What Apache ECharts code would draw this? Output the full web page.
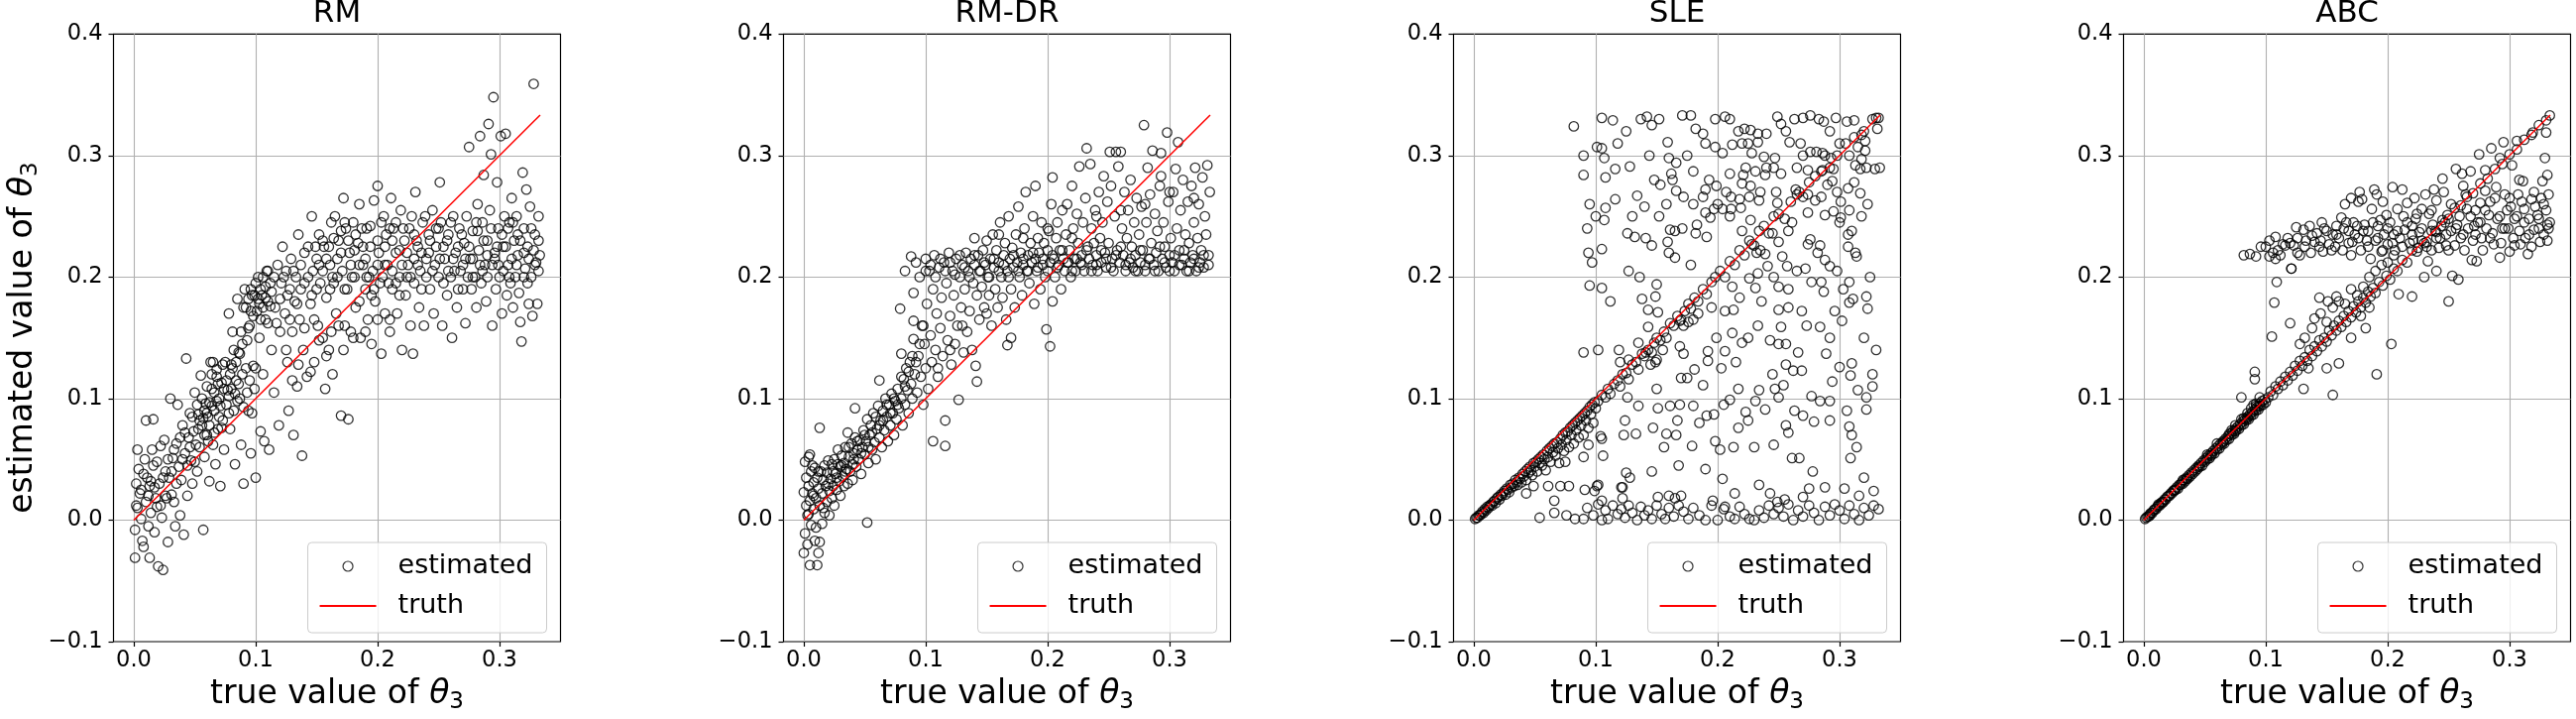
<!DOCTYPE html>
<html>
<head>
<meta charset="utf-8" />
<title>estimated vs true value of θ3</title>
<script src="https://cdn.jsdelivr.net/npm/echarts@6/dist/echarts.min.js"></script>
<style>
	html, body { margin: 0; padding: 0; background: #fff; }
	#chart { width: 2599px; height: 725px; }
</style>
</head>
<body>
<div id="chart"></div>
<script>
// titles and ticks shared by the four panels
var panelNames = ['RM', 'RM-DR', 'SLE', 'ABC'];
var xTicks = [0, 0.1, 0.2, 0.3];
var yTicks = [-0.1, 0, 0.1, 0.2, 0.3, 0.4];
var truthX = [0, 0.3333];

// estimated θ3 against true θ3
var rmPts = [
[0.001,-0.031],[0.001,-0.008],[0.002,0.03],[0.003,0.058],[0.004,0.042],[0.002,0.012],[0.005,0.022],[0.006,0.001],[0.007,-0.017],[0.008,-0.022],
[0.009,0.05],[0.01,0.082],[0.011,0.035],[0.012,0.02],[0.013,0.028],[0.013,-0.031],[0.014,0.006],[0.015,0.058],[0.016,0.045],[0.016,0.083],
[0.017,-0.01],[0.018,0.018],[0.019,0.011],[0.02,-0.038],[0.021,0.03],[0.022,0.061],[0.023,0.002],[0.024,-0.041],[0.025,0.066],[0.026,0.04],
[0.027,0.018],[0.028,-0.018],[0.029,0.035],[0.03,0.1],[0.031,0.021],[0.032,0.051],[0.033,0.015],[0.034,-0.005],[0.035,0.063],[0.036,0.095],
[0.037,0.044],[0.038,0.004],[0.039,0.033],[0.04,0.078],[0.041,-0.012],[0.042,0.055],[0.043,0.133],[0.044,0.02],[0.045,0.068],[0.046,0.088],
[0.047,0.049],[0.048,0.03],[0.049,0.073],[0.05,0.105],[0.052,0.04],[0.053,0.087],[0.054,0.06],[0.055,0.119],[0.056,0.078],[0.057,-0.008],
[0.058,0.052],[0.059,0.096],[0.06,0.07],[0.061,0.085],[0.062,0.032],[0.063,0.13],[0.064,0.108],[0.065,0.062],[0.066,0.09],[0.067,0.046],
[0.068,0.124],[0.069,0.075],[0.07,0.1],[0.071,0.028],[0.072,0.113],[0.073,0.082],[0.074,0.058],[0.075,0.13],[0.076,0.095],[0.077,0.107],
[0.078,0.17],[0.079,0.075],[0.08,0.128],[0.081,0.155],[0.082,0.09],[0.083,0.046],[0.084,0.115],[0.085,0.182],[0.086,0.138],[0.087,0.1],
[0.088,0.062],[0.089,0.12],[0.09,0.03],[0.091,0.19],[0.092,0.175],[0.093,0.148],[0.094,0.09],[0.095,0.16],[0.096,0.055],[0.097,0.185],
[0.098,0.127],[0.099,0.108],[0.1,0.035],[0.101,0.172],[0.102,0.2],[0.103,0.15],[0.104,0.073],[0.105,0.185],[0.106,0.12],[0.107,0.065],
[0.108,0.165],[0.109,0.205],[0.11,0.18],[0.111,0.058],[0.112,0.195],[0.113,0.14],[0.115,0.105],[0.116,0.175],[0.118,0.21],[0.119,0.078],
[0.12,0.155],[0.121,0.195],[0.122,0.225],[0.124,0.17],[0.125,0.205],[0.126,0.13],[0.127,0.09],[0.128,0.19],[0.129,0.215],[0.13,0.155],
[0.131,0.07],[0.132,0.18],[0.133,0.2],[0.134,0.11],[0.135,0.235],[0.136,0.165],[0.137,0.21],[0.138,0.053],[0.139,0.14],[0.14,0.195],
[0.142,0.118],[0.143,0.225],[0.145,0.178],[0.146,0.25],[0.147,0.205],[0.148,0.13],[0.15,0.215],[0.151,0.16],[0.152,0.235],[0.153,0.195],
[0.155,0.15],[0.156,0.225],[0.157,0.108],[0.158,0.183],[0.16,0.14],[0.161,0.21],[0.162,0.245],[0.163,0.12],[0.164,0.195],[0.165,0.25],
[0.166,0.17],[0.168,0.23],[0.17,0.086],[0.171,0.205],[0.172,0.265],[0.173,0.16],[0.174,0.24],[0.175,0.19],[0.176,0.083],[0.177,0.22],
[0.178,0.155],[0.18,0.245],[0.181,0.2],[0.182,0.175],[0.184,0.228],[0.185,0.26],[0.186,0.15],[0.188,0.21],[0.19,0.19],[0.191,0.24],
[0.192,0.165],[0.194,0.225],[0.195,0.145],[0.196,0.205],[0.197,0.263],[0.198,0.18],[0.2,0.275],[0.201,0.22],[0.202,0.195],[0.203,0.137],
[0.205,0.25],[0.206,0.17],[0.207,0.235],[0.208,0.21],[0.21,0.155],[0.211,0.265],[0.212,0.19],[0.213,0.24],[0.215,0.22],[0.216,0.17],
[0.218,0.2],[0.219,0.255],[0.22,0.14],[0.222,0.23],[0.223,0.185],[0.225,0.21],[0.227,0.16],[0.228,0.25],[0.229,0.137],[0.23,0.195],
[0.231,0.27],[0.233,0.225],[0.234,0.175],[0.235,0.205],[0.237,0.245],[0.238,0.16],[0.24,0.215],[0.242,0.235],[0.243,0.19],[0.245,0.255],
[0.246,0.17],[0.248,0.225],[0.25,0.2],[0.251,0.278],[0.252,0.245],[0.253,0.16],[0.255,0.215],[0.257,0.185],[0.258,0.235],[0.26,0.2],
[0.261,0.15],[0.262,0.25],[0.264,0.22],[0.265,0.175],[0.267,0.24],[0.268,0.205],[0.27,0.19],[0.271,0.228],[0.272,0.162],[0.273,0.25],
[0.275,0.307],[0.276,0.215],[0.277,0.19],[0.278,0.238],[0.28,0.2],[0.281,0.175],[0.282,0.26],[0.283,0.222],[0.284,0.316],[0.285,0.195],
[0.286,0.245],[0.287,0.284],[0.288,0.21],[0.289,0.18],[0.29,0.23],[0.291,0.326],[0.292,0.255],[0.293,0.301],[0.294,0.16],[0.295,0.348],
[0.296,0.215],[0.297,0.19],[0.298,0.278],[0.299,0.24],[0.3,0.2],[0.301,0.316],[0.302,0.17],[0.303,0.225],[0.304,0.25],[0.305,0.318],
[0.306,0.185],[0.307,0.21],[0.308,0.245],[0.309,0.195],[0.31,0.265],[0.311,0.175],[0.312,0.23],[0.313,0.2],[0.314,0.25],[0.315,0.218],
[0.316,0.187],[0.317,0.163],[0.318,0.147],[0.319,0.286],[0.32,0.24],[0.321,0.207],[0.322,0.272],[0.323,0.225],[0.324,0.178],[0.325,0.258],
[0.326,0.2],[0.327,0.168],[0.328,0.359],[0.329,0.235],[0.33,0.212],[0.331,0.178],[0.332,0.25],[0.333,0.218],
[0.051,0.062],[0.053,0.075],[0.058,0.07],[0.06,0.088],[0.062,0.078],[0.064,0.094],[0.066,0.072],[0.057,0.084],[0.061,0.065],[0.068,0.098],
[0.07,0.085],[0.072,0.076],[0.065,0.13],[0.068,0.118],[0.074,0.108],[0.078,0.102],[0.083,0.104],[0.086,0.112],[0.09,0.093],[0.093,0.105],
[0.095,0.115],[0.097,0.088],[0.1,0.125],[0.103,0.178],[0.104,0.19],[0.106,0.2],[0.108,0.183],[0.11,0.162],[0.112,0.176],[0.099,0.185],
[0.096,0.172],[0.094,0.158],[0.089,0.145],[0.087,0.137],[0.084,0.13],[0.081,0.125],[0.079,0.12],
[0.15,0.19],[0.155,0.205],[0.16,0.225],[0.163,0.2],[0.167,0.215],[0.17,0.238],[0.173,0.19],[0.178,0.21],[0.181,0.222],[0.185,0.18],
[0.187,0.24],[0.19,0.215],[0.193,0.2],[0.195,0.185],[0.2,0.21],[0.204,0.2],[0.206,0.225],[0.21,0.24],[0.212,0.205],[0.215,0.195],
[0.218,0.222],[0.22,0.21],[0.224,0.2],[0.226,0.24],[0.23,0.215],[0.232,0.23],[0.236,0.22],[0.24,0.2],[0.243,0.23],[0.247,0.21],
[0.25,0.24],[0.254,0.225],[0.258,0.205],[0.262,0.215],[0.266,0.225],[0.27,0.21],[0.274,0.2],[0.278,0.215],[0.282,0.238],[0.286,0.205],
[0.29,0.218],[0.294,0.21],[0.298,0.225],[0.303,0.205],[0.307,0.24],[0.31,0.215],[0.315,0.235],[0.32,0.2],[0.324,0.215],[0.328,0.222],
[0.332,0.205],[0.125,0.14],[0.13,0.115],[0.135,0.128],[0.14,0.158],[0.145,0.122],[0.148,0.165],[0.152,0.148],[0.158,0.135],[0.162,0.155],
[0.168,0.16],[0.172,0.14],[0.18,0.15],[0.19,0.155],[0.2,0.165],[0.21,0.165],
[0.003,0.01],[0.006,0.025],[0.008,0.038],[0.01,0.015],[0.012,-0.005],[0.014,0.032],[0.017,0.027],[0.019,0.048],[0.022,0.012],[0.024,0.035],
[0.026,0.02],[0.028,0.05],[0.031,0.04],[0.033,0.058],[0.035,0.03],[0.038,0.068],[0.04,0.05],[0.042,0.072],[0.044,0.045],[0.046,0.06],
[0.048,0.085],[0.05,0.048],[0.052,0.095],[0.054,0.082],[0.056,0.1],[0.058,0.09],[0.06,0.11],[0.062,0.097],[0.064,0.12],[0.066,0.105],
[0.069,0.112],[0.071,0.094],[0.073,0.128],[0.076,0.115],[0.078,0.088],[0.08,0.108],[0.082,0.14],[0.085,0.098],[0.088,0.155],[0.09,0.175],
[0.092,0.125],[0.094,0.182],[0.096,0.19],[0.098,0.168],[0.1,0.195],[0.102,0.182],[0.104,0.165],[0.106,0.175],[0.108,0.192],[0.11,0.205],
[0.113,0.188],[0.115,0.2],[0.117,0.162],[0.12,0.182],[0.123,0.2],[0.126,0.185],[0.128,0.165],[0.131,0.205],[0.134,0.178],[0.137,0.19],
[0.14,0.22],[0.143,0.2],[0.146,0.185],[0.149,0.225],[0.152,0.21],[0.155,0.23],[0.158,0.215],[0.161,0.19],[0.164,0.232],[0.167,0.2],
[0.17,0.22],[0.173,0.245],[0.176,0.23],[0.179,0.2],[0.182,0.235],[0.185,0.21],[0.188,0.225],[0.191,0.2],[0.194,0.242],[0.197,0.19],
[0.2,0.23],[0.203,0.245],[0.206,0.21],[0.209,0.195],[0.212,0.23],[0.215,0.245],[0.218,0.185],[0.221,0.24],[0.224,0.22],[0.227,0.2],
[0.23,0.235],[0.233,0.21],[0.236,0.19],[0.239,0.25],[0.242,0.22],[0.245,0.205],[0.248,0.24],[0.251,0.215],[0.254,0.195],[0.257,0.23],
[0.26,0.245],[0.263,0.205],[0.266,0.19],[0.269,0.235],[0.272,0.215],[0.275,0.225],[0.278,0.2],[0.281,0.245],[0.284,0.21],[0.287,0.23],
[0.29,0.2],[0.293,0.24],[0.296,0.22],[0.299,0.21],[0.302,0.235],[0.305,0.225],[0.308,0.2],[0.311,0.245],[0.314,0.21],[0.317,0.23],
[0.32,0.22],[0.323,0.195],[0.326,0.24],[0.329,0.21],[0.332,0.23]
];

var rmdrPts = [
[0.000,0.023],[0.001,0.048],[0.001,-0.011],[0.000,-0.027],[0.002,0.012],[0.002,0.035],[0.003,0.004],[0.003,-0.02],[0.004,0.028],[0.004,0.052],
[0.005,0.054],[0.005,-0.037],[0.005,0.016],[0.006,0.04],[0.006,-0.004],[0.007,0.022],[0.007,0.045],[0.008,0.009],[0.008,0.031],[0.009,-0.017],
[0.009,0.043],[0.010,-0.006],[0.010,0.018],[0.011,-0.037],[0.011,0.035],[0.012,-0.027],[0.012,0.026],[0.013,-0.018],[0.013,0.076],[0.013,0.012],
[0.014,0.04],[0.015,-0.003],[0.015,0.022],[0.016,0.033],[0.017,0.006],[0.017,0.045],[0.018,0.028],[0.019,0.015],[0.019,0.039],[0.020,0.049],
[0.021,0.024],[0.021,0.004],[0.022,0.034],[0.023,0.046],[0.023,0.018],[0.024,0.028],[0.025,0.05],[0.025,0.012],[0.026,0.038],[0.027,0.025],
[0.028,0.046],[0.028,0.058],[0.029,0.032],[0.030,0.02],[0.030,0.044],[0.031,0.053],[0.032,0.036],[0.033,0.028],[0.033,0.047],[0.034,0.06],
[0.035,0.042],[0.036,0.072],[0.036,0.03],[0.037,0.052],[0.038,0.04],[0.039,0.063],[0.040,0.046],[0.040,0.033],[0.041,0.055],[0.042,0.092],
[0.042,0.068],[0.043,0.044],[0.044,0.058],[0.045,0.05],[0.046,0.066],[0.047,0.038],[0.048,0.06],[0.049,0.074],[0.050,0.054],[0.051,0.065],
[0.052,-0.002],[0.052,0.083],[0.053,0.047],[0.054,0.07],[0.055,0.078],[0.056,0.058],[0.057,0.088],[0.058,0.064],[0.059,0.05],[0.060,0.075],
[0.061,0.094],[0.062,0.115],[0.062,0.068],[0.063,0.082],[0.064,0.06],[0.065,0.09],[0.066,0.074],[0.067,0.1],[0.068,0.085],[0.069,0.065],
[0.070,0.095],[0.071,0.078],[0.072,0.104],[0.073,0.088],[0.074,0.07],[0.075,0.098],[0.076,0.083],[0.077,0.108],[0.078,0.092],[0.079,0.174],
[0.080,0.137],[0.080,0.1],[0.081,0.078],[0.082,0.116],[0.083,0.205],[0.083,0.095],[0.084,0.125],[0.085,0.107],[0.086,0.088],[0.087,0.13],
[0.088,0.217],[0.088,0.112],[0.089,0.1],[0.090,0.187],[0.090,0.164],[0.090,0.149],[0.091,0.12],[0.092,0.212],[0.093,0.105],[0.094,0.135],
[0.095,0.2],[0.096,0.118],[0.097,0.16],[0.098,0.095],[0.099,0.145],[0.100,0.215],[0.100,0.125],[0.101,0.178],[0.102,0.108],[0.103,0.205],
[0.104,0.152],[0.105,0.13],[0.106,0.065],[0.106,0.19],[0.107,0.218],[0.108,0.14],[0.109,0.17],[0.110,0.118],[0.111,0.208],[0.112,0.158],
[0.113,0.183],[0.114,0.135],[0.115,0.212],[0.116,0.061],[0.116,0.082],[0.117,0.195],[0.118,0.148],[0.119,0.22],[0.120,0.168],[0.121,0.128],
[0.122,0.205],[0.123,0.185],[0.124,0.145],[0.125,0.215],[0.126,0.16],[0.127,0.099],[0.128,0.2],[0.129,0.175],[0.130,0.21],[0.131,0.138],
[0.132,0.19],[0.133,0.22],[0.134,0.155],[0.135,0.205],[0.136,0.172],[0.137,0.215],[0.138,0.14],[0.139,0.195],[0.140,0.21],[0.141,0.127],
[0.142,0.114],[0.142,0.185],[0.143,0.218],[0.144,0.165],[0.145,0.205],[0.146,0.192],[0.147,0.222],[0.148,0.175],[0.149,0.21],[0.150,0.23],
[0.151,0.2],[0.152,0.185],[0.153,0.215],[0.154,0.16],[0.155,0.235],[0.156,0.208],[0.157,0.19],[0.158,0.222],[0.159,0.175],[0.160,0.212],
[0.161,0.245],[0.162,0.2],[0.163,0.183],[0.164,0.218],[0.165,0.228],[0.166,0.165],[0.167,0.144],[0.167,0.205],[0.168,0.25],[0.169,0.215],
[0.170,0.19],[0.171,0.224],[0.172,0.208],[0.173,0.175],[0.174,0.235],[0.175,0.212],[0.176,0.258],[0.177,0.2],[0.178,0.22],[0.179,0.185],
[0.180,0.21],[0.181,0.24],[0.182,0.27],[0.183,0.205],[0.184,0.218],[0.185,0.195],[0.186,0.228],[0.187,0.212],[0.188,0.25],[0.189,0.178],
[0.190,0.275],[0.190,0.215],[0.191,0.205],[0.192,0.232],[0.193,0.22],[0.194,0.19],[0.195,0.245],[0.196,0.21],[0.197,0.228],[0.198,0.2],
[0.199,0.157],[0.200,0.222],[0.201,0.238],[0.202,0.143],[0.202,0.212],[0.203,0.26],[0.204,0.18],[0.204,0.282],[0.205,0.215],[0.206,0.2],
[0.207,0.232],[0.208,0.245],[0.209,0.21],[0.210,0.222],[0.211,0.19],[0.212,0.255],[0.213,0.215],[0.214,0.205],[0.215,0.235],[0.216,0.26],
[0.217,0.212],[0.218,0.222],[0.219,0.2],[0.220,0.275],[0.221,0.24],[0.222,0.215],[0.223,0.205],[0.224,0.252],[0.225,0.228],[0.226,0.291],
[0.227,0.212],[0.228,0.218],[0.229,0.245],[0.230,0.205],[0.231,0.265],[0.232,0.306],[0.233,0.225],[0.234,0.215],[0.235,0.293],[0.236,0.24],
[0.237,0.21],[0.238,0.228],[0.239,0.255],[0.240,0.218],[0.241,0.205],[0.242,0.27],[0.243,0.232],[0.244,0.212],[0.245,0.245],[0.246,0.283],
[0.247,0.22],[0.248,0.208],[0.249,0.262],[0.250,0.228],[0.251,0.303],[0.252,0.275],[0.253,0.215],[0.254,0.205],[0.255,0.25],[0.256,0.303],
[0.257,0.222],[0.258,0.291],[0.259,0.212],[0.260,0.303],[0.261,0.24],[0.262,0.218],[0.263,0.27],[0.264,0.205],[0.265,0.232],[0.266,0.255],
[0.267,0.212],[0.268,0.28],[0.269,0.225],[0.270,0.208],[0.271,0.245],[0.272,0.218],[0.273,0.265],[0.274,0.205],[0.275,0.235],[0.276,0.212],
[0.277,0.258],[0.278,0.222],[0.279,0.325],[0.280,0.205],[0.281,0.245],[0.282,0.29],[0.283,0.215],[0.284,0.268],[0.285,0.228],[0.286,0.304],
[0.287,0.21],[0.288,0.252],[0.289,0.22],[0.290,0.238],[0.291,0.205],[0.292,0.275],[0.293,0.302],[0.293,0.283],[0.294,0.215],[0.295,0.245],
[0.296,0.225],[0.297,0.208],[0.298,0.319],[0.299,0.262],[0.300,0.218],[0.301,0.232],[0.302,0.212],[0.303,0.27],[0.304,0.205],[0.305,0.289],
[0.306,0.24],[0.307,0.311],[0.308,0.222],[0.309,0.255],[0.310,0.21],[0.311,0.28],[0.312,0.215],[0.313,0.235],[0.314,0.205],[0.315,0.262],
[0.316,0.228],[0.317,0.212],[0.318,0.275],[0.319,0.218],[0.320,0.245],[0.321,0.29],[0.322,0.205],[0.323,0.232],[0.324,0.26],[0.325,0.212],
[0.326,0.222],[0.327,0.282],[0.328,0.208],[0.329,0.25],[0.330,0.235],[0.331,0.292],[0.332,0.218],[0.333,0.27],
[0.004,0.005],[0.008,0.02],[0.012,0.04],[0.016,0.01],[0.02,0.03],[0.024,0.04],[0.027,0.035],[0.031,0.045],[0.034,0.04],[0.037,0.06],
[0.041,0.05],[0.044,0.065],[0.047,0.055],[0.05,0.07],[0.053,0.06],[0.056,0.072],[0.059,0.085],[0.062,0.078],[0.065,0.082],[0.068,0.095],
[0.071,0.088],[0.074,0.1],[0.077,0.095],[0.08,0.118],[0.083,0.11],[0.086,0.122],[0.089,0.135],[0.092,0.13],[0.095,0.145],[0.098,0.16],
[0.1,0.205],[0.104,0.21],[0.108,0.2],[0.112,0.215],[0.116,0.205],[0.12,0.212],[0.124,0.202],[0.128,0.218],[0.132,0.208],[0.136,0.2],
[0.14,0.218],[0.144,0.205],[0.148,0.212],[0.152,0.2],[0.156,0.215],[0.16,0.205],[0.164,0.21],[0.168,0.2],[0.172,0.218],[0.176,0.205],
[0.18,0.215],[0.184,0.205],[0.188,0.22],[0.192,0.208],[0.196,0.215],[0.2,0.205],[0.204,0.218],[0.208,0.208],[0.212,0.222],[0.216,0.212],
[0.22,0.205],[0.224,0.215],[0.228,0.21],[0.232,0.222],[0.236,0.205],[0.24,0.21],[0.244,0.222],[0.248,0.215],[0.252,0.208],[0.256,0.218],
[0.26,0.225],[0.264,0.21],[0.268,0.215],[0.272,0.205],[0.276,0.222],[0.28,0.21],[0.284,0.215],[0.288,0.205],[0.292,0.225],[0.296,0.212],
[0.3,0.205],[0.304,0.218],[0.308,0.21],[0.312,0.222],[0.316,0.205],[0.32,0.215],[0.324,0.208],[0.328,0.218],[0.332,0.21],[0.14,0.232],
[0.16,0.235],[0.18,0.232],[0.2,0.24],[0.22,0.232],[0.24,0.25],[0.26,0.255],[0.28,0.26],[0.3,0.27],[0.32,0.265],[0.17,0.15],
[0.15,0.17],[0.13,0.16],[0.12,0.14],[0.11,0.125]
];

var slePts = [
[0.001,0.001],[0.002,0.002],[0.003,0.002],[0.004,0.004],[0.005,0.004],[0.006,0.005],[0.007,0.007],[0.008,0.006],[0.009,0.009],[0.010,0.008],
[0.011,0.011],[0.012,0.010],[0.013,0.012],[0.014,0.013],[0.015,0.012],[0.016,0.015],[0.017,0.016],[0.018,0.014],[0.019,0.018],[0.020,0.019],
[0.021,0.017],[0.022,0.021],[0.023,0.020],[0.024,0.022],[0.025,0.024],[0.026,0.021],[0.027,0.026],[0.028,0.025],[0.029,0.023],[0.030,0.029],
[0.031,0.027],[0.032,0.030],[0.033,0.028],[0.034,0.033],[0.035,0.031],[0.036,0.029],[0.037,0.035],[0.038,0.034],[0.039,0.031],[0.040,0.038],
[0.041,0.036],[0.042,0.040],[0.043,0.033],[0.044,0.042],[0.045,0.039],[0.046,0.044],[0.047,0.041],[0.048,0.037],[0.049,0.047],[0.050,0.044],
[0.051,0.048],[0.052,0.040],[0.053,0.050],[0.054,0.047],[0.055,0.052],[0.056,0.045],[0.057,0.054],[0.058,0.050],[0.059,0.041],[0.060,0.057],
[0.061,0.052],[0.062,0.059],[0.063,0.048],[0.064,0.061],[0.065,0.056],[0.066,0.063],[0.067,0.053],[0.068,0.064],[0.069,0.059],[0.070,0.047],
[0.071,0.067],[0.072,0.062],[0.073,0.070],[0.074,0.057],[0.075,0.072],[0.076,0.066],[0.077,0.073],[0.078,0.060],[0.079,0.076],[0.080,0.070],
[0.081,0.078],[0.082,0.063],[0.083,0.080],[0.084,0.074],[0.085,0.082],[0.086,0.068],[0.087,0.084],[0.088,0.078],[0.089,0.086],[0.090,0.070],
[0.091,0.088],[0.092,0.082],[0.093,0.090],[0.094,0.076],[0.095,0.093],[0.096,0.087],[0.097,0.095],[0.098,0.080],[0.099,0.097],[0.100,0.092],
[0.043,0.022],[0.049,0.028],[0.061,0.028],[0.066,0.016],[0.071,0.028],[0.078,0.028],[0.075,0.048],[0.090,0.052],[0.094,0.062],[0.105,0.067],
[0.106,0.053],[0.102,0.029],[0.091,0.025],[0.099,0.024],[0.105,0.016],
[0.102,0.098],[0.105,0.103],[0.108,0.101],[0.110,0.108],[0.112,0.104],[0.115,0.112],[0.118,0.115],[0.120,0.110],[0.122,0.120],[0.125,0.121],
[0.127,0.116],[0.130,0.128],[0.133,0.130],[0.135,0.124],[0.138,0.137],[0.140,0.135],[0.143,0.140],[0.146,0.138],[0.148,0.146],[0.150,0.150],
[0.153,0.148],[0.156,0.155],[0.158,0.150],[0.161,0.162],[0.164,0.160],[0.167,0.168],[0.170,0.165],[0.173,0.172],[0.176,0.178],[0.178,0.174],
[0.181,0.183],[0.184,0.180],[0.188,0.190],[0.191,0.186],[0.195,0.196],[0.198,0.200],[0.202,0.205],[0.206,0.200],[0.210,0.213],[0.214,0.210],
[0.218,0.222],[0.222,0.218],[0.226,0.230],[0.230,0.226],[0.234,0.238],[0.238,0.242],[0.242,0.236],[0.246,0.250],[0.250,0.252],[0.255,0.248],
[0.260,0.262],[0.265,0.268],[0.270,0.266],[0.275,0.278],[0.280,0.283],[0.286,0.288],[0.292,0.290],[0.298,0.300],[0.305,0.310],[0.312,0.315],
[0.320,0.320],[0.327,0.330],[0.332,0.331],[0.169,0.164],[0.172,0.160],[0.176,0.163],[0.180,0.165],[0.184,0.170],[0.145,0.128],[0.150,0.132],
[0.054,0.002],[0.066,0.006],[0.076,0.004],[0.083,0.001],[0.090,0.001],[0.093,0.010],[0.098,0.004],[0.102,0.013],[0.105,0.000],[0.108,0.008],
[0.110,0.001],[0.114,0.012],[0.118,0.005],[0.121,0.009],[0.124,0.002],[0.127,0.012],[0.130,0.006],[0.134,0.000],[0.137,0.011],[0.140,0.004],
[0.143,0.008],[0.146,0.001],[0.150,0.012],[0.154,0.005],[0.157,0.001],[0.160,0.010],[0.164,0.003],[0.168,0.012],[0.172,0.007],[0.176,0.001],
[0.180,0.010],[0.185,0.004],[0.190,0.000],[0.195,0.012],[0.200,0.000],[0.205,0.009],[0.210,0.003],[0.214,0.001],[0.218,0.011],[0.222,0.005],
[0.226,0.001],[0.230,0.000],[0.234,0.008],[0.238,0.002],[0.242,0.012],[0.246,0.005],[0.250,0.010],[0.254,0.003],[0.258,0.013],[0.262,0.000],
[0.266,0.008],[0.270,0.003],[0.275,0.012],[0.279,0.006],[0.283,0.000],[0.288,0.011],[0.292,0.004],[0.296,0.013],[0.300,0.008],[0.304,0.001],
[0.308,0.012],[0.312,0.005],[0.316,0.000],[0.320,0.010],[0.324,0.004],[0.328,0.012],[0.332,0.009],
[0.082,0.324],[0.105,0.331],[0.114,0.329],[0.125,0.320],[0.137,0.330],[0.142,0.332],[0.146,0.325],[0.152,0.330],[0.159,0.311],[0.171,0.333],
[0.178,0.333],[0.182,0.322],[0.188,0.318],[0.198,0.330],[0.206,0.332],[0.210,0.330],[0.217,0.320],[0.222,0.322],[0.227,0.321],[0.233,0.318],
[0.249,0.332],[0.252,0.326],[0.263,0.330],[0.270,0.331],[0.276,0.333],[0.283,0.330],[0.287,0.328],[0.292,0.320],[0.297,0.331],[0.306,0.328],
[0.312,0.329],[0.318,0.317],[0.330,0.331],[0.331,0.322],[0.240,0.318],[0.256,0.320],
[0.090,0.284],[0.095,0.260],[0.093,0.240],[0.094,0.220],[0.097,0.212],[0.095,0.193],[0.105,0.191],[0.105,0.223],[0.101,0.307],[0.105,0.306],
[0.107,0.298],[0.108,0.282],[0.116,0.289],[0.108,0.257],[0.116,0.264],[0.107,0.247],[0.128,0.291],[0.126,0.236],[0.132,0.233],[0.127,0.205],
[0.090,0.138],[0.102,0.140],[0.134,0.267],[0.140,0.258],[0.141,0.232],[0.146,0.226],[0.148,0.280],[0.153,0.276],[0.158,0.260],[0.159,0.229],
[0.160,0.220],[0.165,0.216],[0.161,0.239],[0.165,0.238],[0.171,0.240],[0.182,0.236],[0.191,0.233],[0.183,0.243],[0.180,0.287],[0.160,0.298],
[0.166,0.294],[0.162,0.285],[0.166,0.271],[0.172,0.266],[0.180,0.260],[0.190,0.272],[0.193,0.280],[0.188,0.266],[0.190,0.253],[0.194,0.249],
[0.197,0.256],[0.198,0.307],[0.204,0.302],[0.212,0.309],[0.220,0.310],[0.228,0.302],[0.233,0.311],[0.238,0.299],[0.247,0.298],[0.246,0.290],
[0.223,0.290],[0.221,0.284],[0.231,0.287],[0.239,0.284],[0.220,0.277],[0.227,0.275],[0.235,0.270],[0.226,0.266],[0.234,0.263],[0.248,0.270],
[0.249,0.261],[0.204,0.256],[0.211,0.256],[0.219,0.257],[0.199,0.275],[0.207,0.270],[0.211,0.266],[0.218,0.264],[0.227,0.247],[0.220,0.238],
[0.228,0.227],[0.235,0.222],[0.232,0.220],[0.239,0.219],[0.245,0.236],[0.250,0.229],[0.253,0.217],[0.257,0.209],[0.265,0.205],[0.272,0.207],
[0.277,0.196],[0.285,0.196],[0.287,0.188],[0.292,0.209],[0.298,0.205],[0.308,0.196],[0.313,0.220],[0.307,0.225],[0.314,0.217],[0.307,0.235],
[0.310,0.238],[0.300,0.245],[0.301,0.249],[0.308,0.255],[0.295,0.254],[0.288,0.251],[0.274,0.253],[0.276,0.231],[0.284,0.226],[0.274,0.227],
[0.288,0.214],[0.261,0.245],[0.258,0.238],[0.267,0.270],[0.264,0.272],[0.274,0.268],[0.280,0.263],[0.285,0.266],[0.290,0.276],[0.294,0.279],
[0.301,0.262],[0.307,0.273],[0.312,0.278],[0.317,0.269],[0.323,0.260],[0.317,0.289],[0.322,0.290],[0.329,0.289],[0.333,0.290],[0.318,0.297],
[0.321,0.304],[0.313,0.292],[0.295,0.289],[0.285,0.287],[0.265,0.290],[0.274,0.288],[0.259,0.311],[0.276,0.303],[0.281,0.303],[0.286,0.302],
[0.293,0.298],[0.300,0.310],[0.315,0.307],[0.321,0.312],
[0.119,0.140],[0.120,0.130],[0.127,0.132],[0.126,0.101],[0.135,0.094],[0.124,0.082],[0.123,0.070],[0.133,0.071],[0.104,0.069],[0.125,0.039],
[0.128,0.035],[0.122,0.027],[0.146,0.040],[0.147,0.076],[0.158,0.071],[0.166,0.070],[0.151,0.092],[0.161,0.094],[0.167,0.082],[0.169,0.095],
[0.179,0.061],[0.180,0.094],[0.191,0.086],[0.197,0.087],[0.198,0.065],[0.202,0.058],[0.213,0.060],[0.204,0.034],[0.190,0.042],[0.196,0.016],
[0.150,0.108],[0.170,0.117],[0.175,0.117],[0.181,0.124],[0.188,0.111],[0.203,0.125],[0.217,0.108],[0.210,0.099],[0.223,0.089],[0.225,0.082],
[0.217,0.076],[0.231,0.098],[0.239,0.091],[0.234,0.107],[0.247,0.108],[0.250,0.101],[0.254,0.111],[0.246,0.062],[0.256,0.078],[0.258,0.072],
[0.261,0.051],[0.267,0.051],[0.270,0.086],[0.279,0.081],[0.277,0.102],[0.284,0.098],[0.292,0.098],[0.292,0.082],[0.306,0.090],[0.308,0.077],
[0.310,0.070],[0.309,0.051],[0.315,0.107],[0.322,0.091],[0.322,0.101],[0.327,0.110],[0.327,0.120],[0.320,0.035],[0.328,0.024],[0.304,0.026],
[0.288,0.027],[0.275,0.026],[0.270,0.019],[0.234,0.029],[0.243,0.022],[0.249,0.015],[0.255,0.017],[0.214,0.022],[0.206,0.011],[0.170,0.020],
[0.165,0.018],[0.160,0.020],[0.151,0.019],[0.121,0.027],[0.122,0.018],[0.101,0.028],
[0.135,0.146],[0.141,0.138],[0.149,0.130],[0.155,0.140],[0.169,0.143],[0.172,0.137],[0.192,0.131],[0.192,0.139],[0.199,0.150],[0.206,0.139],
[0.212,0.154],[0.220,0.146],[0.225,0.150],[0.233,0.160],[0.243,0.148],[0.250,0.145],[0.256,0.145],[0.266,0.138],[0.256,0.128],[0.262,0.123],
[0.269,0.123],[0.252,0.159],[0.284,0.159],[0.289,0.137],[0.300,0.126],[0.294,0.114],[0.310,0.129],[0.309,0.119],[0.320,0.150],[0.302,0.164],
[0.296,0.172],[0.269,0.172],[0.250,0.173],[0.258,0.175],[0.322,0.184],[0.323,0.174],[0.308,0.179],[0.311,0.182],[0.231,0.191],[0.226,0.199],
[0.233,0.203],[0.241,0.209],[0.246,0.200],[0.250,0.192],[0.212,0.192],[0.218,0.183],[0.206,0.172],[0.213,0.173],[0.143,0.173],[0.151,0.171],
[0.138,0.182],[0.149,0.184],[0.150,0.194],[0.143,0.159],
[0.090,0.300],[0.100,0.250],[0.112,0.180],[0.118,0.310],[0.130,0.250],[0.136,0.200],[0.144,0.300],[0.152,0.250],[0.156,0.060],[0.163,0.280],
[0.168,0.045],[0.175,0.300],[0.178,0.210],[0.185,0.080],[0.190,0.310],[0.195,0.175],[0.200,0.260],[0.205,0.095],[0.210,0.285],[0.215,0.130],
[0.225,0.310],[0.230,0.060],[0.236,0.180],[0.240,0.290],[0.245,0.120],[0.252,0.285],[0.258,0.190],[0.263,0.090],[0.268,0.310],[0.273,0.160],
[0.278,0.040],[0.282,0.220],[0.288,0.300],[0.292,0.150],[0.298,0.270],[0.303,0.190],[0.308,0.300],[0.314,0.060],[0.318,0.250],[0.325,0.200],
[0.330,0.140],[0.316,0.020],[0.270,0.300],[0.210,0.250]
];

var abcPts = [
[0.001,0.001],[0.002,0.002],[0.003,0.003],[0.004,0.003],[0.005,0.005],[0.006,0.006],[0.007,0.006],[0.008,0.008],[0.009,0.009],[0.010,0.009],
[0.011,0.011],[0.012,0.012],[0.013,0.012],[0.014,0.014],[0.015,0.015],[0.016,0.015],[0.017,0.017],[0.018,0.017],[0.019,0.019],[0.020,0.020],
[0.021,0.020],[0.022,0.022],[0.023,0.022],[0.024,0.024],[0.025,0.025],[0.026,0.025],[0.027,0.027],[0.028,0.026],[0.029,0.029],[0.030,0.029],
[0.031,0.031],[0.032,0.030],[0.033,0.033],[0.034,0.032],[0.035,0.035],[0.036,0.034],[0.037,0.037],[0.038,0.036],[0.039,0.039],[0.040,0.038],
[0.041,0.041],[0.042,0.040],[0.043,0.043],[0.044,0.042],[0.045,0.045],[0.046,0.044],[0.047,0.047],[0.048,0.045],[0.049,0.049],[0.050,0.048],
[0.051,0.051],[0.052,0.050],[0.053,0.053],[0.054,0.051],[0.055,0.055],[0.056,0.054],[0.057,0.057],[0.058,0.055],[0.059,0.059],[0.060,0.058],
[0.061,0.061],[0.062,0.059],[0.063,0.063],[0.064,0.062],[0.065,0.065],[0.066,0.063],[0.067,0.067],[0.068,0.066],[0.069,0.069],[0.070,0.067],
[0.071,0.071],[0.072,0.070],[0.073,0.073],[0.074,0.071],[0.075,0.075],[0.076,0.074],[0.077,0.077],[0.078,0.075],[0.079,0.079],[0.080,0.078],
[0.081,0.081],[0.082,0.079],[0.083,0.083],[0.084,0.082],[0.085,0.085],[0.086,0.083],[0.087,0.087],[0.088,0.086],[0.089,0.089],[0.090,0.087],
[0.091,0.091],[0.092,0.090],[0.093,0.093],[0.094,0.091],[0.095,0.096],[0.096,0.094],[0.097,0.098],[0.098,0.095],[0.099,0.099],[0.100,0.097],
[0.060,0.063],[0.075,0.078],[0.080,0.083],[0.085,0.088],[0.088,0.092],[0.090,0.095],[0.092,0.096],[0.082,0.084],[0.070,0.071],[0.095,0.101],
[0.005,0.004],[0.015,0.014],[0.025,0.024],[0.035,0.034],[0.045,0.044],[0.055,0.053],[0.065,0.064],[0.075,0.073],[0.085,0.084],[0.095,0.094],
[0.012,0.013],[0.032,0.033],[0.052,0.054],[0.072,0.074],[0.092,0.094],
[0.102,0.101],[0.104,0.106],[0.106,0.103],[0.108,0.110],[0.110,0.108],[0.112,0.114],[0.114,0.111],[0.116,0.118],[0.118,0.115],[0.120,0.122],
[0.122,0.119],[0.124,0.127],[0.126,0.123],[0.128,0.131],[0.130,0.127],[0.132,0.134],[0.134,0.131],[0.136,0.140],[0.138,0.135],[0.140,0.143],
[0.142,0.139],[0.144,0.148],[0.146,0.143],[0.148,0.150],[0.150,0.147],[0.152,0.156],[0.154,0.152],[0.156,0.160],[0.158,0.156],[0.160,0.164],
[0.162,0.159],[0.164,0.168],[0.166,0.163],[0.168,0.172],[0.170,0.167],[0.172,0.176],[0.174,0.171],[0.176,0.180],[0.178,0.175],[0.180,0.183],
[0.182,0.179],[0.184,0.188],[0.186,0.184],[0.188,0.191],[0.190,0.187],[0.193,0.196],[0.196,0.193],[0.199,0.201],[0.202,0.198],[0.205,0.207],
[0.208,0.205],[0.212,0.214],[0.216,0.212],[0.220,0.222],[0.224,0.221],[0.228,0.230],[0.232,0.229],[0.236,0.238],[0.240,0.237],[0.245,0.247],
[0.250,0.248],[0.255,0.257],[0.260,0.259],[0.265,0.266],[0.270,0.269],[0.276,0.277],[0.282,0.281],[0.288,0.289],[0.294,0.293],[0.300,0.301],
[0.306,0.305],[0.312,0.313],[0.318,0.317],[0.324,0.325],[0.330,0.329],[0.333,0.333],
[0.128,0.145],[0.132,0.150],[0.138,0.158],[0.140,0.166],[0.145,0.170],[0.150,0.163],[0.155,0.175],[0.160,0.180],[0.165,0.178],[0.170,0.190],
[0.175,0.185],[0.180,0.192],[0.185,0.200],[0.190,0.205],[0.195,0.210],[0.200,0.212],[0.205,0.218],[0.185,0.175],[0.178,0.168],[0.135,0.125],
[0.155,0.103],[0.191,0.120],[0.203,0.145],[0.250,0.180],[0.107,0.179],[0.105,0.151],[0.109,0.196],[0.121,0.207],[0.120,0.162],[0.144,0.183],
[0.151,0.180],[0.158,0.184],[0.160,0.129],[0.150,0.125],[0.131,0.108],[0.091,0.122],[0.091,0.116],[0.080,0.101],[0.182,0.158],[0.170,0.150],
[0.209,0.186],[0.220,0.184],[0.230,0.200],[0.240,0.205],
[0.082,0.218],[0.087,0.219],[0.092,0.217],[0.096,0.225],[0.103,0.217],[0.103,0.230],[0.108,0.215],[0.108,0.233],[0.114,0.227],[0.116,0.226],
[0.121,0.207],[0.125,0.241],[0.126,0.220],[0.131,0.239],[0.137,0.220],[0.140,0.229],[0.142,0.236],[0.146,0.245],[0.147,0.221],[0.152,0.227],
[0.155,0.235],[0.158,0.242],[0.162,0.249],[0.165,0.260],[0.168,0.238],[0.171,0.229],[0.173,0.235],[0.177,0.270],[0.179,0.264],[0.181,0.243],
[0.183,0.230],[0.187,0.256],[0.189,0.272],[0.191,0.268],[0.192,0.242],[0.195,0.221],[0.199,0.251],[0.200,0.227],[0.204,0.274],[0.205,0.235],
[0.208,0.256],[0.212,0.272],[0.214,0.239],[0.216,0.261],[0.221,0.230],[0.223,0.248],[0.225,0.224],[0.228,0.256],[0.231,0.268],[0.233,0.213],
[0.237,0.243],[0.240,0.263],[0.242,0.224],[0.245,0.281],[0.246,0.270],[0.248,0.235],[0.249,0.251],[0.250,0.222],[0.253,0.201],[0.256,0.289],
[0.257,0.243],[0.258,0.198],[0.261,0.285],[0.262,0.235],[0.265,0.256],[0.268,0.287],[0.269,0.214],[0.271,0.242],[0.273,0.213],[0.275,0.301],
[0.276,0.261],[0.277,0.232],[0.280,0.271],[0.283,0.251],[0.285,0.306],[0.287,0.227],[0.289,0.274],[0.292,0.216],[0.292,0.298],[0.294,0.240],
[0.295,0.311],[0.298,0.255],[0.300,0.221],[0.302,0.292],[0.303,0.232],[0.306,0.312],[0.307,0.268],[0.309,0.227],[0.311,0.279],[0.312,0.245],
[0.315,0.219],[0.318,0.264],[0.319,0.319],[0.320,0.239],[0.323,0.251],[0.325,0.229],[0.327,0.279],[0.329,0.298],[0.330,0.319],[0.331,0.243],
[0.331,0.284],[0.332,0.268],[0.331,0.230],
[0.110,0.222],[0.118,0.232],[0.123,0.226],[0.128,0.218],[0.133,0.230],[0.136,0.242],[0.144,0.225],[0.150,0.238],[0.157,0.225],[0.160,0.232],
[0.163,0.222],[0.166,0.245],[0.170,0.218],[0.175,0.242],[0.178,0.222],[0.184,0.238],[0.186,0.215],[0.190,0.230],[0.194,0.247],[0.197,0.235],
[0.202,0.245],[0.206,0.222],[0.210,0.232],[0.213,0.250],[0.218,0.228],[0.220,0.242],[0.226,0.237],[0.230,0.228],[0.234,0.252],[0.236,0.222],
[0.239,0.238],[0.243,0.232],[0.247,0.245],[0.252,0.238],[0.255,0.226],[0.259,0.250],[0.263,0.222],[0.266,0.240],[0.270,0.230],[0.272,0.255],
[0.274,0.245],[0.278,0.222],[0.281,0.240],[0.284,0.262],[0.286,0.236],[0.290,0.248],[0.293,0.228],[0.296,0.268],[0.299,0.240],[0.301,0.258],
[0.304,0.226],[0.306,0.250],[0.308,0.238],[0.310,0.262],[0.313,0.232],[0.316,0.248],[0.318,0.225],[0.321,0.258],[0.324,0.240],[0.326,0.265],
[0.328,0.235],[0.330,0.255],[0.333,0.245],[0.170,0.265],[0.176,0.262],[0.196,0.262],[0.222,0.265],[0.238,0.272],[0.262,0.275],[0.280,0.288],
[0.100,0.225],[0.106,0.220],[0.112,0.218],[0.120,0.228],[0.126,0.232],[0.132,0.225],[0.138,0.234],[0.145,0.230],[0.148,0.240],[0.154,0.222],
[0.158,0.235],[0.164,0.240],[0.168,0.228],[0.172,0.245],[0.176,0.232],[0.180,0.238],[0.184,0.225],[0.188,0.245],[0.192,0.232],[0.196,0.222],
[0.200,0.240],[0.204,0.228],[0.208,0.238],[0.212,0.225],[0.216,0.245],[0.220,0.235],[0.224,0.252],[0.228,0.240],[0.232,0.225],[0.236,0.255],
[0.240,0.232],[0.244,0.242],[0.248,0.226],[0.252,0.260],[0.256,0.240],[0.260,0.232],[0.264,0.268],[0.268,0.250],[0.272,0.235],[0.276,0.245],
[0.280,0.255],[0.284,0.232],[0.288,0.265],[0.292,0.250],[0.296,0.240],[0.300,0.265],[0.304,0.248],[0.308,0.280],[0.312,0.256],[0.316,0.235],
[0.320,0.270],[0.324,0.248],[0.328,0.260],[0.332,0.240]
];

var panelPts = [rmPts, rmdrPts, slePts, abcPts];

// layout of the four axes boxes (pixels)
var chartW = 2599, chartH = 725;
var panelLeft = [114.5, 790.5, 1466.5, 2142.5];
var panelW = 451, panelTop = 34.3, panelH = 616;

var font = 'DejaVu Sans';
function tickText(v) {
	var s = Math.abs(v).toFixed(1);
	return (v < -1e-9 ? '\u2212' : '') + s;
}
var nameRich = {
	t: { fontFamily: font, fontSize: 33, color: '#000' },
	th: { fontFamily: font, fontSize: 33, fontStyle: 'italic', color: '#000' },
	s: { fontFamily: font, fontSize: 23, color: '#000', padding: [16, 0, 0, 0] }
};

var grids = [], xAxes = [], yAxes = [], series = [], titles = [], legends = [];
panelNames.forEach(function (name, i) {
	grids.push({
		left: panelLeft[i], top: panelTop, width: panelW, height: panelH,
		show: true, borderColor: '#000', borderWidth: 1.2, backgroundColor: 'transparent'
	});
	xAxes.push({
		gridIndex: i, type: 'value', min: -0.01665, max: 0.35,
		name: '{t|true value of }{th|θ}{s|3}', nameLocation: 'middle', nameGap: 34,
		nameTextStyle: { rich: nameRich },
		axisLine: { show: false, onZero: false },
		axisTick: { show: true, length: 5, customValues: xTicks, lineStyle: { color: '#000', width: 1.2 } },
		axisLabel: { customValues: xTicks, margin: 8, fontFamily: font, fontSize: 22.5, color: '#000', formatter: tickText },
		splitLine: { show: true, lineStyle: { color: '#b0b0b0', width: 1.1 } }
	});
	yAxes.push({
		gridIndex: i, type: 'value', min: yTicks[0], max: yTicks[yTicks.length - 1], interval: 0.1,
		name: i === 0 ? '{t|estimated value of }{th|θ}{s|3}' : '',
		nameLocation: 'middle', nameGap: 72, nameRotate: 90,
		nameTextStyle: { rich: nameRich },
		axisLine: { show: false, onZero: false },
		axisTick: { show: true, length: 5, lineStyle: { color: '#000', width: 1.2 } },
		axisLabel: { margin: 11, fontFamily: font, fontSize: 22.5, color: '#000', formatter: tickText },
		splitLine: { show: true, showMinLine: false, showMaxLine: false, lineStyle: { color: '#b0b0b0', width: 1.1 } }
	});
	series.push({
		name: 'estimated', type: 'scatter', xAxisIndex: i, yAxisIndex: i,
		data: panelPts[i], symbol: 'circle', symbolSize: 9.5,
		itemStyle: { color: 'rgba(0,0,0,0)', borderColor: '#000', borderWidth: 1.3 },
		emphasis: { disabled: true }, silent: true, animation: false
	});
	series.push({
		name: 'truth', type: 'line', xAxisIndex: i, yAxisIndex: i,
		data: truthX.map(function (v) { return [v, v]; }),
		symbol: 'none', lineStyle: { color: '#ff0000', width: 1.5 }, itemStyle: { color: '#ff0000' },
		silent: true, animation: false, z: 3
	});
	titles.push({
		text: name, left: panelLeft[i] + panelW / 2, top: -2, textAlign: 'center', padding: 0,
		textStyle: { fontFamily: font, fontSize: 31, fontWeight: 'normal', color: '#000' }
	});
	legends.push({
		orient: 'vertical', selectedMode: false,
		right: chartW - (panelLeft[i] + panelW) + 14, bottom: 87,
		data: [
			{ name: 'estimated', icon: 'circle', itemStyle: { color: 'rgba(0,0,0,0)', borderColor: '#000', borderWidth: 1.2 } },
			{ name: 'truth', itemStyle: { opacity: 0 } }
		],
		itemWidth: 57, itemHeight: 10, itemGap: 10,
		padding: [9, 14, 12, 11],
		backgroundColor: 'rgba(255,255,255,0.8)', borderColor: '#cccccc', borderWidth: 1, borderRadius: 4,
		textStyle: { fontFamily: font, fontSize: 27, color: '#000', lineHeight: 30, padding: [0, 0, 0, 17] }
	});
});

var chart = echarts.init(document.getElementById('chart'));
chart.setOption({
	animation: false,
	backgroundColor: '#fff',
	title: titles,
	legend: legends,
	grid: grids,
	xAxis: xAxes,
	yAxis: yAxes,
	series: series
});
</script>
</body>
</html>
